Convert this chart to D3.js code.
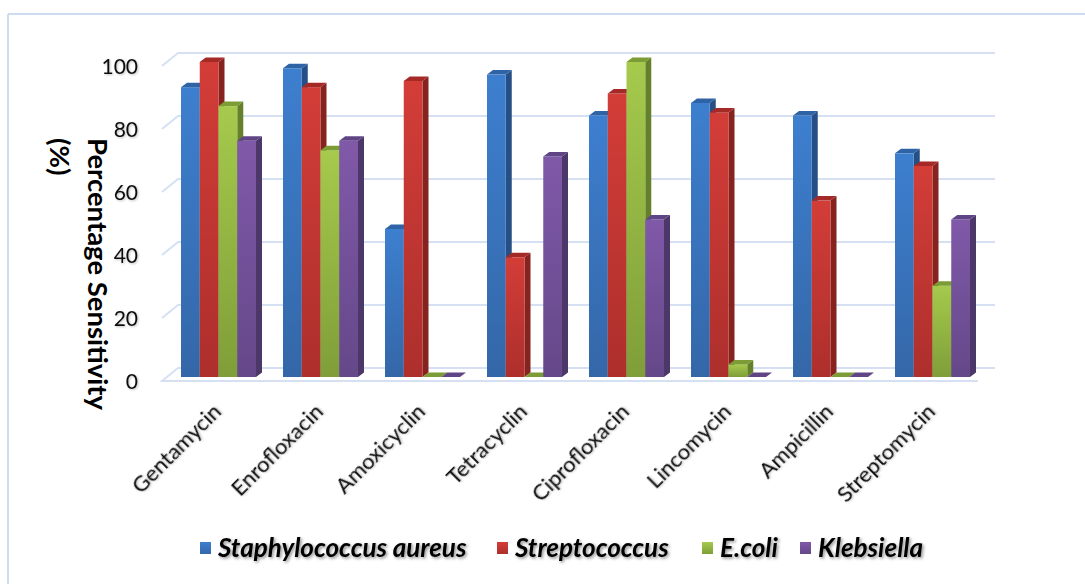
<!DOCTYPE html>
<html>
<head>
<meta charset="utf-8">
<script src="https://cdn.jsdelivr.net/npm/d3@7"></script>
<style>
  html, body { margin: 0; padding: 0; background: #fff; }
  svg { display: block; }
</style>
</head>
<body>
<svg id="chart" width="1085" height="584"></svg>
<script>
const categories = ["Gentamycin", "Enrofloxacin", "Amoxicyclin", "Tetracyclin", "Ciprofloxacin", "Lincomycin", "Ampicillin", "Streptomycin"];
const seriesNames = ["Staphylococcus aureus", "Streptococcus", "E.coli", "Klebsiella"];
const staphylococcus = [92, 98, 47, 96, 83, 87, 83, 71];
const streptococcus = [100, 92, 94, 38, 90, 84, 56, 67];
const ecoli = [86, 72, 0, 0, 100, 4, 0, 29];
const klebsiella = [75, 75, 0, 70, 50, 0, 0, 50];
const yTicks = [0, 20, 40, 60, 80, 100];

const seriesValues = [staphylococcus, streptococcus, ecoli, klebsiella];
const colors = [
  { top: "#3d7fcf", bot: "#3467a8", side: "#264f86", cap: "#2e63a6" },
  { top: "#d33d38", bot: "#ad2f2c", side: "#86231f", cap: "#a52a27" },
  { top: "#a5ca4c", bot: "#7f9e39", side: "#64802b", cap: "#7c9c35" },
  { top: "#8059a9", bot: "#654889", side: "#4b3768", cap: "#5f4586" }
];

const svg = d3.select("#chart");
const defs = svg.append("defs");
colors.forEach((c, i) => {
  const g = defs.append("linearGradient").attr("id", "grad" + i)
    .attr("x1", 0).attr("y1", 0).attr("x2", 0).attr("y2", 1);
  g.append("stop").attr("offset", "0%").attr("stop-color", c.top);
  g.append("stop").attr("offset", "100%").attr("stop-color", c.bot);
});
const sh = defs.append("filter").attr("id", "shadow").attr("x", "-10%").attr("y", "-30%").attr("width", "120%").attr("height", "160%");
sh.append("feDropShadow").attr("dx", 1.5).attr("dy", 1.5).attr("stdDeviation", 1.5).attr("flood-color", "#000").attr("flood-opacity", 0.45);
const sh2 = defs.append("filter").attr("id", "shadow2").attr("x", "-10%").attr("y", "-30%").attr("width", "120%").attr("height", "160%");
sh2.append("feDropShadow").attr("dx", 1).attr("dy", 1).attr("stdDeviation", 1).attr("flood-color", "#000").attr("flood-opacity", 0.25);

// border
svg.append("line").attr("x1", 8).attr("y1", 14).attr("x2", 1085).attr("y2", 14)
  .attr("stroke", "#cddcf0").attr("stroke-width", 2);
svg.append("line").attr("x1", 8).attr("y1", 14).attr("x2", 8).attr("y2", 584)
  .attr("stroke", "#cddcf0").attr("stroke-width", 2);

// geometry
const frontLeft = 162, frontRight = 978;
const depthDx = 16, depthDy = -13;
const yFront = d3.scaleLinear().domain([0, 100]).range([381, 66]);
const yBack = d3.scaleLinear().domain([0, 100]).range([368, 53]);
const yBar = d3.scaleLinear().domain([0, 100]).range([377, 62]);
const x0 = d3.scaleBand().domain(categories).range([frontLeft, frontRight]).paddingInner(0).paddingOuter(0);
const x1 = d3.scaleBand().domain(d3.range(4)).range([19, 94]);
const barDx = 6, barDy = -4.5;

const grid = svg.append("g");
const gridColor = "#d5e1f3";
yTicks.forEach(v => {
  if (v === 0) return;
  grid.append("path")
    .attr("d", `M${frontLeft},${yFront(v)} L${frontLeft + depthDx},${yBack(v)} L${frontRight + depthDx + 1},${yBack(v)}`)
    .attr("fill", "none").attr("stroke", gridColor).attr("stroke-width", 2);
});
// floor
grid.append("path")
  .attr("d", `M${frontRight + depthDx + 1},${yBack(0)} L${frontLeft + depthDx},${yBack(0)} L${frontLeft},${yFront(0)} L${frontRight},${yFront(0)}`)
  .attr("fill", "none").attr("stroke", gridColor).attr("stroke-width", 2);

// y tick labels
svg.append("g").selectAll("text").data(yTicks).join("text")
  .attr("x", 138).attr("y", d => yFront(d))
  .attr("dy", "0.36em")
  .attr("text-anchor", "end")
  .attr("font-family", "Lato, 'Open Sans', sans-serif")
  .attr("font-size", 21)
  .attr("fill", "#111")
  .attr("filter", "url(#shadow2)")
  .text(d => d);

// bars
const bars = svg.append("g");
categories.forEach((cat, ci) => {
  seriesValues.forEach((vals, si) => {
    const v = vals[ci];
    const xl = x0(cat) + x1(si);
    const w = x1.bandwidth();
    const yt = yBar(v), yb = yBar(0);
    const c = colors[si];
    const g = bars.append("g");
    if (v > 0) {
      g.append("path")
        .attr("d", `M${xl + w},${yt} L${xl + w + barDx},${yt + barDy} L${xl + w + barDx},${yb + barDy} L${xl + w},${yb} Z`)
        .attr("fill", c.side);
      g.append("rect").attr("x", xl).attr("y", yt).attr("width", w).attr("height", yb - yt)
        .attr("fill", `url(#grad${si})`);
    }
    g.append("path")
      .attr("d", `M${xl},${yt} L${xl + barDx},${yt + barDy} L${xl + w + barDx},${yt + barDy} L${xl + w},${yt} Z`)
      .attr("fill", c.cap);
  });
});

// x labels
svg.append("g").selectAll("text").data(categories).join("text")
  .attr("transform", d => `translate(${x0(d) + 19 + 37.5 + 4},413) rotate(-45)`)
  .attr("text-anchor", "end")
  .attr("font-family", "Lato, 'Open Sans', sans-serif")
  .attr("font-size", 22)
  .attr("fill", "#111")
  .attr("filter", "url(#shadow2)")
  .text(d => d);

// y title
svg.append("text")
  .attr("transform", "translate(88,138) rotate(90)")
  .attr("font-family", "Lato, sans-serif").attr("font-weight", "bold").attr("font-size", 27.5)
  .attr("fill", "#000")
  .text("Percentage Sensitivity");
svg.append("text")
  .attr("transform", "translate(50,138) rotate(90)")
  .attr("font-family", "Lato, sans-serif").attr("font-weight", "bold").attr("font-size", 27.5)
  .attr("fill", "#000")
  .text("(%)");

// legend
const legendX = [200, 497, 702, 800];
const lg = svg.append("g");
seriesNames.forEach((name, i) => {
  lg.append("rect").attr("x", legendX[i]).attr("y", 542).attr("width", 11).attr("height", 12)
    .attr("fill", `url(#grad${i})`);
  lg.append("text").attr("x", legendX[i] + 18).attr("y", 557)
    .attr("font-family", "Lato, sans-serif").attr("font-weight", "bold").attr("font-style", "italic")
    .attr("font-size", 26).attr("fill", "#000")
    .attr("filter", "url(#shadow)")
    .text(name);
});
</script>
</body>
</html>
